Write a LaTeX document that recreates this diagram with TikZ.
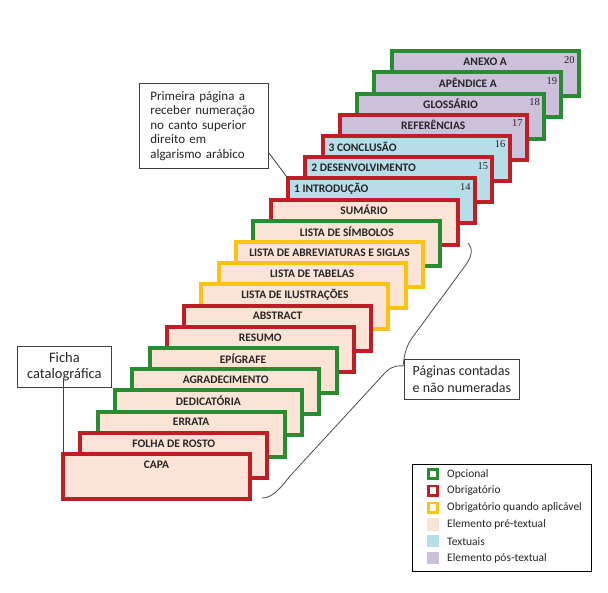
\documentclass[tikz,border=0pt]{standalone}
\usepackage{fontspec}
\setmainfont{Carlito}
\newfontfamily\numfont{Liberation Serif}
\usetikzlibrary{calc}

\definecolor{obrig}{RGB}{192,30,38}
\definecolor{opc}{RGB}{40,140,50}
\definecolor{aplic}{RGB}{250,195,20}
\definecolor{pretext}{RGB}{251,228,213}
\definecolor{textual}{RGB}{183,222,232}
\definecolor{postext}{RGB}{204,192,218}

\tikzset{
  card/.style={draw=#1, line width=4pt, minimum width=187pt, minimum height=45pt,
    inner sep=0pt, outer sep=0pt, anchor=north west},
  cardtext/.style={font=\fontsize{11.5}{13}\selectfont\bfseries, text=black!85, inner sep=0pt},
  pagenum/.style={font=\numfont\fontsize{10.5}{12}\selectfont, text=black!85, inner sep=0pt, anchor=east},
  callout/.style={draw=black!75, line width=0.8pt, inner sep=0pt, anchor=north west,
    font=\fontsize{13}{14.5}\selectfont, text=black!85},
  conn/.style={draw=black!75, line width=0.8pt},
  bracedraw/.style={draw=black!70, line width=0.8pt},
  legtext/.style={font=\fontsize{11.5}{13}\selectfont, text=black!85, anchor=west, inner sep=0pt},
  legbox/.style={draw=#1, line width=2.6pt, fill=white, minimum size=9.5pt, inner sep=0pt},
  legfill/.style={fill=#1, minimum size=12.5pt, inner sep=0pt},
}

\begin{document}
\begin{tikzpicture}[x=1pt, y=-1pt]
\fill[white] (0,0) rectangle (608,593);

% cards, from the back to the front
\foreach \i/\txt/\bord/\fil/\anc/\off in {
  19/ANEXO A/opc/postext/center/93.5,
  18/APÊNDICE A/opc/postext/center/93.5,
  17/GLOSSÁRIO/opc/postext/center/93.5,
  16/REFERÊNCIAS/obrig/postext/center/93.5,
  15/3 CONCLUSÃO/obrig/textual/west/6,
  14/2 DESENVOLVIMENTO/obrig/textual/west/6,
  13/1 INTRODUÇÃO/obrig/textual/west/6,
  12/SUMÁRIO/obrig/pretext/center/93.5,
  11/LISTA DE SÍMBOLOS/opc/pretext/center/93.5,
  10/LISTA DE ABREVIATURAS E SIGLAS/aplic/pretext/center/93.5,
  9/LISTA DE TABELAS/aplic/pretext/center/93.5,
  8/LISTA DE ILUSTRAÇÕES/aplic/pretext/center/93.5,
  7/ABSTRACT/obrig/pretext/center/93.5,
  6/RESUMO/obrig/pretext/center/93.5,
  5/EPÍGRAFE/opc/pretext/center/93.5,
  4/AGRADECIMENTO/opc/pretext/center/93.5,
  3/DEDICATÓRIA/opc/pretext/center/93.5,
  2/ERRATA/opc/pretext/center/93.5,
  1/FOLHA DE ROSTO/obrig/pretext/center/93.5,
  0/CAPA/obrig/pretext/center/93.5}{
  \node[card=\bord, fill=\fil] (c\i) at ({63+17.3*\i},{454-21.2*\i}) {};
  \node[cardtext, anchor=\anc] (t\i) at ($(c\i.north west)+(\off,10.5)$) {\txt};
}
\foreach \i in {13,...,19}{
  \pgfmathtruncatemacro\pg{\i+1}
  \node[pagenum] (n\i) at ($(c\i.north east)+(-4,8.5)$) {\pg};
}

% callouts
\node[callout, text width=107pt, align=left, inner xsep=11pt, minimum height=85pt] (prim) at (139,83)
  {Primeira página a\\receber numeração\\no canto superior\\direito em\\algarismo arábico};
\node[callout, minimum width=94pt, minimum height=41pt, align=center, font=\fontsize{14.5}{16}\selectfont] (ficha) at (17,346)
  {Ficha\\catalográfica};
\node[callout, minimum width=115pt, minimum height=40pt, align=left, font=\fontsize{14}{17}\selectfont] (pag) at (404,359)
  {Páginas contadas\\e não numeradas};

\draw[conn] ([yshift=16pt]prim.south east) -- (c13.north west);
\draw[conn] ($(c0.north west |- ficha.south)+(0,-10)$) -- (c0.north west);

% brace
\coordinate (bra) at (262,498);
\coordinate (brb) at (468,243);
\coordinate (brtip) at (403,366);
\draw[bracedraw] (brb) .. controls (474,250) and (471,258) .. (465,266) -- (412,338)
  .. controls (405,348) and (404,358) .. (brtip)
  .. controls (395,365) and (389,368) .. (383,375) -- (290,476)
  .. controls (280,489) and (272,498) .. (bra);

% legend
\node[draw=black, line width=0.8pt, minimum width=179pt, minimum height=107pt, anchor=north west] (leg) at (412,464) {};
\node[legbox=opc] (l1) at (433,474) {};
\node[legtext] at (447,474) {Opcional};
\node[legbox=obrig] (l2) at (433,490.8) {};
\node[legtext] at (447,490.8) {Obrigatório};
\node[legbox=aplic] (l3) at (433,507.6) {};
\node[legtext] at (447,507.6) {Obrigatório quando aplicável};
\node[legfill=pretext] (l4) at (433,524.4) {};
\node[legtext] at (447,524.4) {Elemento pré-textual};
\node[legfill=textual] (l5) at (433,541.2) {};
\node[legtext] at (447,541.2) {Textuais};
\node[legfill=postext] (l6) at (433,558) {};
\node[legtext] at (447,558) {Elemento pós-textual};
\end{tikzpicture}
\end{document}
